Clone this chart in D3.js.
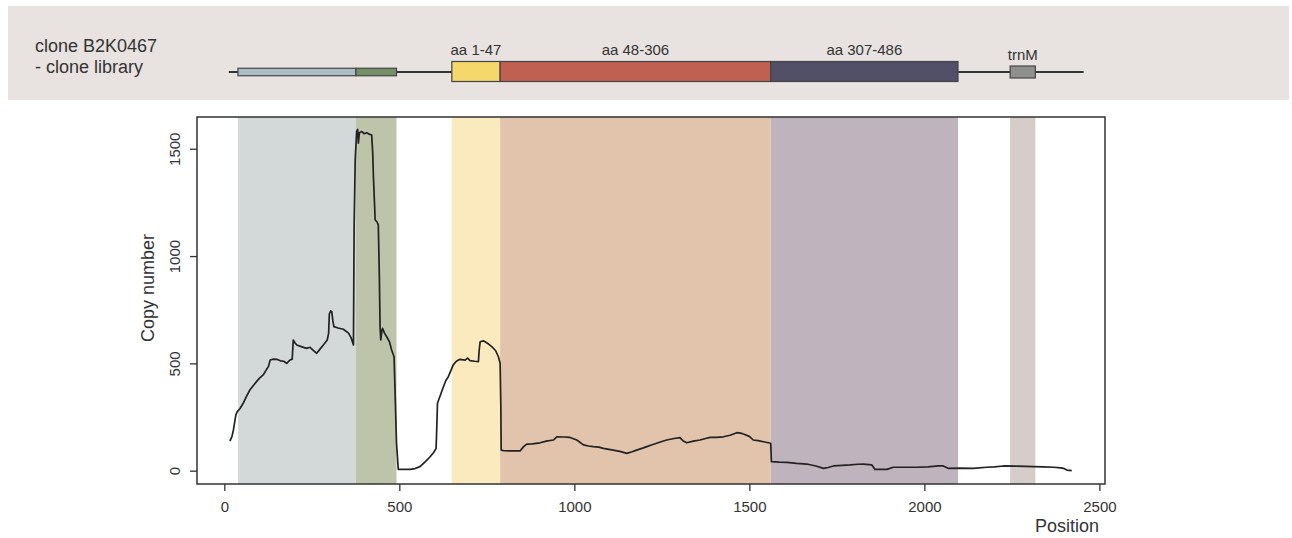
<!DOCTYPE html>
<html>
<head>
<meta charset="utf-8">
<script src="https://cdn.jsdelivr.net/npm/d3@7"></script>
<style>
  body { margin: 0; background: #fff; }
  svg { display: block; font-family: "Liberation Sans", Arial, sans-serif; }
</style>
</head>
<body>
<div class="container"></div>
<script>
const width = 1292;
const height = 538;

// coverage along the clone (position, copy number)
const positions = [16, 22, 26, 30, 33, 37, 45, 54, 63, 73, 82, 92, 100, 111, 120, 126, 131, 140, 150, 160, 170, 178, 188, 194, 197, 202, 207, 220, 235, 245, 255, 264, 275, 283, 294, 298, 300, 304, 307, 310, 313, 325, 340, 355, 362, 369, 370, 371, 374, 378, 381, 383, 386, 393, 400, 407, 414, 421, 424, 426, 429, 431, 436, 440, 443, 445, 447, 450, 452, 458, 464, 472, 478, 485, 488, 492, 497, 515, 531, 545, 559, 573, 588, 598, 605, 607, 609, 617, 626, 633, 640, 647, 654, 663, 673, 688, 695, 702, 715, 726, 728, 731, 740, 745, 755, 764, 775, 783, 788, 790, 791, 800, 820, 845, 855, 864, 880, 902, 920, 940, 950, 970, 988, 1007, 1026, 1040, 1054, 1070, 1083, 1111, 1130, 1150, 1165, 1178, 1195, 1207, 1220, 1235, 1250, 1264, 1285, 1302, 1310, 1321, 1340, 1359, 1375, 1388, 1405, 1426, 1445, 1464, 1475, 1483, 1500, 1511, 1525, 1540, 1561, 1563, 1585, 1607, 1635, 1664, 1690, 1712, 1725, 1740, 1765, 1788, 1810, 1826, 1850, 1859, 1893, 1911, 1950, 1978, 2010, 2040, 2054, 2068, 2100, 2140, 2178, 2200, 2226, 2260, 2290, 2311, 2340, 2369, 2390, 2397, 2407, 2421];
const copyNumber = [138, 160, 190, 230, 260, 275, 290, 314, 345, 376, 395, 415, 430, 446, 470, 485, 516, 520, 519, 512, 510, 500, 516, 520, 609, 595, 586, 578, 570, 575, 560, 547, 570, 586, 609, 640, 730, 745, 741, 700, 671, 665, 659, 641, 620, 586, 900, 1153, 1450, 1580, 1590, 1526, 1575, 1580, 1570, 1575, 1568, 1564, 1480, 1370, 1250, 1168, 1160, 1145, 900, 671, 609, 650, 663, 640, 624, 600, 562, 531, 361, 128, 6, 6, 6, 10, 19, 40, 65, 85, 104, 200, 314, 350, 391, 420, 438, 465, 493, 510, 519, 515, 525, 513, 510, 508, 560, 601, 605, 601, 590, 578, 560, 531, 500, 300, 96, 93, 92, 92, 112, 124, 125, 130, 138, 143, 158, 157, 155, 143, 120, 115, 112, 110, 104, 96, 90, 81, 88, 96, 105, 112, 120, 128, 136, 143, 150, 154, 140, 130, 138, 143, 150, 155, 155, 158, 165, 177, 175, 171, 160, 143, 140, 135, 128, 42, 40, 39, 34, 31, 22, 11, 15, 22, 25, 27, 30, 31, 27, 6, 6, 16, 16, 16, 18, 22, 22, 11, 12, 11, 16, 18, 22, 21, 20, 19, 18, 16, 13, 11, 3, 0];

// gene features on the clone
const features = ["up1", "up2", "aa 1-47", "aa 48-306", "aa 307-486", "trnM"];
const featureStart = [39, 376, 650, 788, 1561, 2245];
const featureEnd = [376, 492, 788, 1561, 2096, 2317];
const featureLabels = ["", "", "aa 1-47", "aa 48-306", "aa 307-486", "trnM"];
const trackExtent = [13, 2455];

const xTicks = [0, 500, 1000, 1500, 2000, 2500];
const yTicks = [0, 500, 1000, 1500];

const shadeColor = d3.scaleOrdinal()
  .domain(features)
  .range(["#d3d9d9", "#bec4aa", "#fbeabe", "#e2c3ab", "#bfb4bd", "#d6ccca"]);
const boxColor = d3.scaleOrdinal()
  .domain(features)
  .range(["#a9bec2", "#728f66", "#f5d86c", "#bf6052", "#524f68", "#8f8f8d"]);
// box height in the gene track
const boxHeight = d3.scaleOrdinal()
  .domain(features)
  .range([7.5, 7.5, 20, 20, 20, 12]);

const data = positions.map((p, i) => ({ pos: p, val: copyNumber[i] }));
const feats = features.map((f, i) => ({ name: f, start: featureStart[i], end: featureEnd[i], label: featureLabels[i] }));

const plot = { left: 197, right: 1105, top: 117, bottom: 484 };

const xScale = d3.scaleLinear().domain([-78, 2516]).range([plot.left, plot.right]);
const yScale = d3.scaleLinear().domain([-62, 1648]).range([plot.bottom, plot.top]);

const svg = d3.select(".container")
  .append("svg")
  .attr("width", width)
  .attr("height", height);

// ---- gene track panel ----
svg.append("rect")
  .attr("x", 8).attr("y", 6)
  .attr("width", 1281).attr("height", 94)
  .attr("fill", "#e8e3e0");

svg.append("text")
  .attr("x", 35).attr("y", 52)
  .attr("font-size", 18).attr("fill", "#333")
  .text("clone B2K0467");
svg.append("text")
  .attr("x", 35).attr("y", 73)
  .attr("font-size", 18).attr("fill", "#333")
  .text("- clone library");

const trackY = 72;

svg.append("line")
  .attr("x1", xScale(trackExtent[0])).attr("x2", xScale(trackExtent[1]))
  .attr("y1", trackY).attr("y2", trackY)
  .attr("stroke", "#333").attr("stroke-width", 2);

svg.append("g")
  .selectAll("rect")
  .data(feats)
  .join("rect")
  .attr("x", d => xScale(d.start))
  .attr("width", d => xScale(d.end) - xScale(d.start))
  .attr("y", d => d.name === "trnM" ? trackY - 6 : trackY - boxHeight(d.name) / 2 - (boxHeight(d.name) > 10 ? 0.5 : 0))
  .attr("height", d => boxHeight(d.name))
  .attr("fill", d => boxColor(d.name))
  .attr("stroke", "#444")
  .attr("stroke-width", 1.2);

svg.append("g")
  .selectAll("text")
  .data(feats.filter(d => d.label))
  .join("text")
  .attr("x", d => xScale((d.start + d.end) / 2))
  .attr("y", d => d.name === "trnM" ? 60 : 55)
  .attr("text-anchor", "middle")
  .attr("font-size", 15)
  .attr("fill", "#333")
  .text(d => d.label);

// ---- coverage plot ----
const canvas = svg.append("g");

canvas.append("g")
  .selectAll("rect")
  .data(feats)
  .join("rect")
  .attr("x", d => xScale(d.start))
  .attr("width", d => xScale(d.end) - xScale(d.start))
  .attr("y", plot.top)
  .attr("height", plot.bottom - plot.top)
  .attr("fill", d => shadeColor(d.name));

const line = d3.line()
  .x(d => xScale(d.pos))
  .y(d => yScale(d.val));

canvas.append("path")
  .datum(data)
  .attr("d", line)
  .attr("fill", "none")
  .attr("stroke", "#222")
  .attr("stroke-width", 1.7)
  .attr("stroke-linejoin", "round");

canvas.append("rect")
  .attr("x", plot.left).attr("y", plot.top)
  .attr("width", plot.right - plot.left)
  .attr("height", plot.bottom - plot.top)
  .attr("fill", "none")
  .attr("stroke", "#333")
  .attr("stroke-width", 1.5);

const xAxis = d3.axisBottom(xScale)
  .tickValues(xTicks)
  .tickFormat(d3.format("d"))
  .tickSize(7)
  .tickSizeOuter(0);

const gx = svg.append("g")
  .attr("transform", `translate(0, ${plot.bottom})`)
  .call(xAxis);
gx.select(".domain").remove();
gx.selectAll("line").attr("stroke", "#333").attr("stroke-width", 1.3);
gx.selectAll("text")
  .attr("font-size", 15)
  .attr("fill", "#333")
  .attr("font-family", "Liberation Sans, Arial, sans-serif")
  .attr("dy", null)
  .attr("y", 28);

const yAxis = d3.axisLeft(yScale)
  .tickValues(yTicks)
  .tickFormat(d3.format("d"))
  .tickSize(7)
  .tickSizeOuter(0);

const gy = svg.append("g")
  .attr("transform", `translate(${plot.left}, 0)`)
  .call(yAxis);
gy.select(".domain").remove();
gy.selectAll("line").attr("stroke", "#333").attr("stroke-width", 1.3);
gy.selectAll("text")
  .attr("font-size", 15)
  .attr("fill", "#333")
  .attr("font-family", "Liberation Sans, Arial, sans-serif")
  .attr("x", null).attr("dy", null)
  .attr("text-anchor", "middle")
  .attr("transform", "translate(-17, 0) rotate(-90)");

svg.append("text")
  .attr("transform", `translate(154, 288) rotate(-90)`)
  .attr("text-anchor", "middle")
  .attr("font-size", 18)
  .attr("fill", "#333")
  .text("Copy number");

svg.append("text")
  .attr("x", 1099).attr("y", 532)
  .attr("text-anchor", "end")
  .attr("font-size", 18)
  .attr("fill", "#333")
  .text("Position");
</script>
</body>
</html>
